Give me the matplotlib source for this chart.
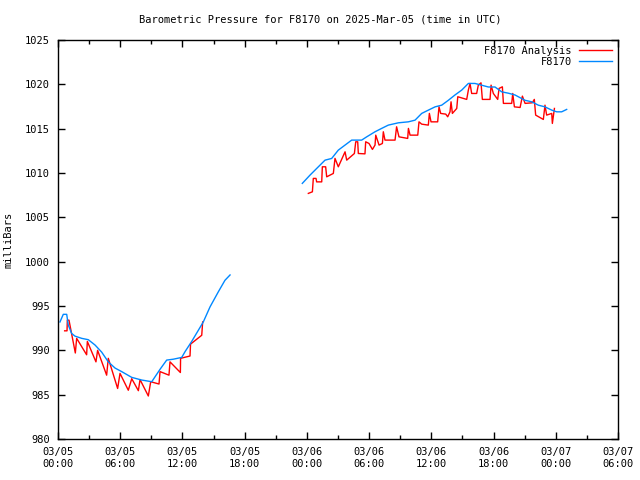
import numpy as np
import matplotlib.pyplot as plt
from matplotlib.ticker import MultipleLocator

# hours since 2025-03-05 00:00 UTC
tick_hours = [0, 6, 12, 18, 24, 30, 36, 42, 48, 54]
tick_labels = ['03/05\n00:00', '03/05\n06:00', '03/05\n12:00', '03/05\n18:00',
               '03/06\n00:00', '03/06\n06:00', '03/06\n12:00', '03/06\n18:00',
               '03/07\n00:00', '03/07\n06:00']

# F8170 station (blue)
obs1_t = [0.19, 0.51, 0.84, 0.99, 1.32, 1.64, 2.29, 2.92, 3.57, 4.21, 4.85, 5.50,
          6.14, 7.11, 8.07, 9.04, 9.84, 10.48, 11.12, 11.93, 12.25, 12.89, 14.01,
          14.66, 15.46, 16.10, 16.59]
obs1_p = [993.2, 994.06, 994.06, 992.85, 991.9, 991.6, 991.35, 991.2, 990.6, 989.8,
          988.7, 988.0, 987.6, 986.95, 986.65, 986.46, 987.86, 988.9, 989.0, 989.2,
          989.85, 991.0, 993.2, 994.9, 996.6, 997.9, 998.5]

obs2_t = [23.56, 24.30, 24.95, 25.75, 26.39, 27.03, 27.68, 28.32, 29.28, 29.77,
          30.57, 31.21, 31.85, 32.82, 33.78, 34.43, 35.07, 35.71, 36.36, 37.00,
          37.64, 38.28, 38.93, 39.57, 40.21, 40.86, 41.50, 42.14, 42.79, 43.43,
          44.07, 45.03, 45.68, 46.32, 46.96, 47.61, 48.09, 48.57, 49.05]
obs2_p = [1008.83, 1009.76, 1010.52, 1011.45, 1011.64, 1012.58, 1013.15, 1013.71,
          1013.71, 1014.08, 1014.65, 1015.03, 1015.4, 1015.66, 1015.77, 1015.96,
          1016.72, 1017.09, 1017.46, 1017.65, 1018.2, 1018.8, 1019.35, 1020.1,
          1020.1, 1019.9, 1019.7, 1019.7, 1019.15, 1019.0, 1018.8, 1018.2, 1018.03,
          1017.65, 1017.46, 1017.09, 1016.9, 1016.9, 1017.17]

# F8170 Analysis (red)
ana1_t = [0.64, 0.87, 0.90, 1.06, 1.67, 1.80, 2.76, 2.83, 3.66, 3.82, 4.69, 4.85,
          5.75, 5.98, 6.78, 7.11, 7.75, 7.91, 8.71, 8.94, 9.74, 9.84, 10.70, 10.80,
          11.80, 11.82, 12.73, 12.78, 13.86, 13.95]
ana1_p = [992.2, 992.2, 993.4, 993.4, 989.7, 991.35, 989.5, 991.0, 988.7, 990.0,
          987.2, 989.1, 985.7, 987.4, 985.5, 986.8, 985.45, 986.7, 984.85, 986.46,
          986.2, 987.6, 987.2, 988.7, 987.5, 989.1, 989.36, 990.7, 991.7, 993.2]

ana2_t = [24.14, 24.53, 24.62, 24.88, 24.94, 25.43, 25.49, 25.81, 25.91, 26.55,
          26.71, 27.03, 27.68, 27.84, 28.58, 28.71, 28.90, 28.96, 29.60, 29.67,
          29.99, 30.32, 30.57, 30.64, 30.96, 31.28, 31.37, 31.53, 32.50, 32.65,
          32.88, 33.72, 33.79, 33.95, 34.69, 34.81, 35.07, 35.71, 35.81, 35.97,
          36.61, 36.74, 36.90, 37.39, 37.58, 37.80, 37.90, 38.03, 38.45, 38.55,
          39.41, 39.57, 39.73, 39.89, 40.37, 40.53, 40.79, 40.92, 41.66, 41.76,
          41.98, 42.40, 42.53, 42.85, 42.95, 43.75, 43.85, 44.01, 44.56, 44.78,
          45.04, 45.74, 45.93, 46.06, 46.80, 46.96, 47.12, 47.61, 47.67, 47.87]
ana2_p = [1007.70, 1007.88, 1009.39, 1009.39, 1009.0, 1009.0, 1010.7, 1010.7,
          1009.57, 1009.95, 1011.65, 1010.7, 1012.39, 1011.45, 1012.2, 1013.52,
          1013.52, 1012.2, 1012.16, 1013.52, 1013.33, 1012.66, 1013.15, 1014.27,
          1013.15, 1013.33, 1014.65, 1013.71, 1013.71, 1015.21, 1014.08, 1013.9,
          1015.03, 1014.27, 1014.27, 1015.77, 1015.51, 1015.4, 1016.72, 1015.77,
          1015.77, 1017.46, 1016.72, 1016.64, 1016.34, 1016.9, 1018.03, 1016.72,
          1017.28, 1018.6, 1018.3, 1019.35, 1020.1, 1018.97, 1018.97, 1019.91,
          1020.17, 1018.3, 1018.3, 1019.91, 1018.97, 1018.3, 1019.54, 1019.72,
          1017.85, 1017.85, 1018.97, 1017.46, 1017.39, 1018.67, 1017.85, 1017.92,
          1018.3, 1016.53, 1016.04, 1017.65, 1016.53, 1016.72, 1015.59, 1017.28]

red = '#ff0000'
blue = '#0088ff'
mono = 'DejaVu Sans Mono'

fig = plt.figure(figsize=(6.4, 4.8), dpi=100)
ax = fig.add_axes([58 / 640, 41 / 480, 560 / 640, 399 / 480])

ax.plot(ana1_t, ana1_p, color=red, lw=1.0, label='F8170 Analysis')
ax.plot(ana2_t, ana2_p, color=red, lw=1.0)
ax.plot(obs1_t, obs1_p, color=blue, lw=1.0, label='F8170')
ax.plot(obs2_t, obs2_p, color=blue, lw=1.0)

ax.set_xlim(0, 54)
ax.set_ylim(980, 1025)
ax.set_xticks(tick_hours)
ax.set_xticklabels(tick_labels, fontsize=7.5, family=mono)
ax.xaxis.set_minor_locator(MultipleLocator(3))
ax.yaxis.set_major_locator(MultipleLocator(5))
for lab in ax.get_yticklabels():
    lab.set_fontsize(7.5)
    lab.set_family(mono)
ax.tick_params(which='both', direction='in', top=True, right=True, width=1, pad=6)
ax.tick_params(which='major', length=5)
ax.tick_params(which='minor', length=3)
for s in ax.spines.values():
    s.set_linewidth(1)

ax.set_ylabel('milliBars', fontsize=7.5, family=mono, labelpad=8)
fig.suptitle('Barometric Pressure for F8170 on 2025-Mar-05 (time in UTC)',
             fontsize=7.5, family=mono, y=0.97)

ax.legend(loc='upper right', frameon=False, markerfirst=False,
          prop={'family': mono, 'size': 7.5}, handlelength=3.2,
          handletextpad=0.7, borderaxespad=0.15, labelspacing=0.1)

plt.savefig('out.png', dpi=100)
